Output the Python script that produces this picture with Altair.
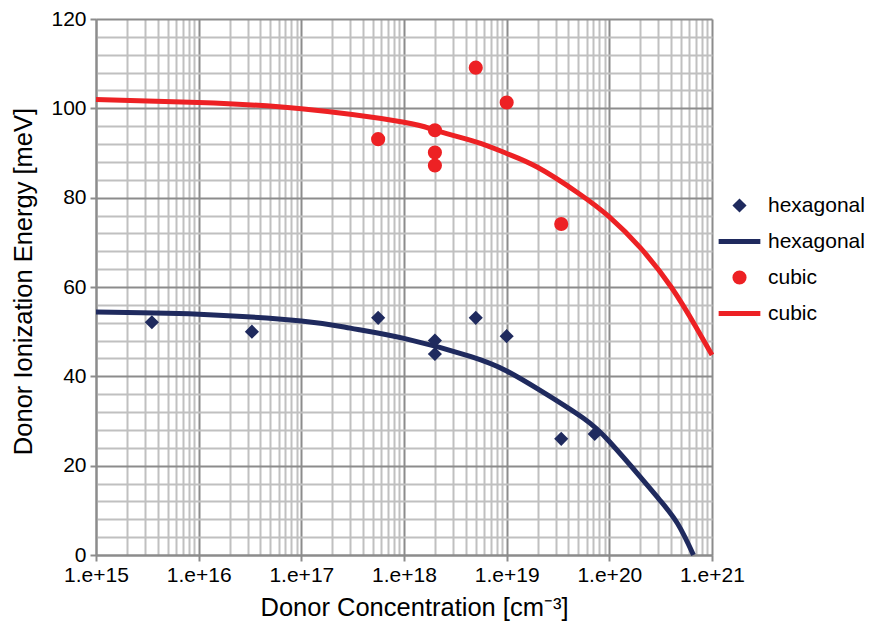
import altair as alt
import pandas as pd

# Measured donor ionization energies (meV) versus donor concentration (cm^-3)
hex_conc = [3.5e15, 3.3e16, 5.6e17, 2.0e18, 2.0e18, 5.0e18, 1.0e19, 3.4e19, 7.2e19]
hex_energy = [52.1, 50.0, 53.1, 48.0, 45.0, 53.1, 49.0, 26.0, 27.1]
cubic_conc = [5.6e17, 2.0e18, 2.0e18, 2.0e18, 5.0e18, 1.0e19, 3.4e19]
cubic_energy = [93.1, 95.1, 90.1, 87.2, 109.1, 101.3, 74.1]

# Trend curves
hex_fit_conc = [1e15, 1e16, 1e17, 3e17, 1e18, 4.5e18, 1e19, 2.1e19, 5.6e19,
                1e20, 2e20, 3.1e20, 4.6e20, 6.6e20]
hex_fit_energy = [54.4, 53.9, 52.4, 50.8, 48.5, 44.4, 41.2, 36.9, 30.6,
                  25.4, 17.5, 12.3, 7.1, 0.0]
cubic_fit_conc = [1e15, 1e16, 1e17, 1e18, 2e18, 5e18, 1e19, 2e19, 5e19, 1e20,
                  2e20, 4e20, 7e20, 1e21]
cubic_fit_energy = [102.0, 101.3, 99.9, 96.9, 95.1, 92.5, 89.9, 86.8, 81.0, 75.7,
                    68.8, 60.0, 51.0, 44.8]

# Grid positions: decades / every 20 meV are major, the rest minor
x_grid = sorted([10.0 ** e for e in range(15, 22)]
                + [k * 10.0 ** e for e in range(15, 21) for k in range(2, 10)])
y_grid = list(range(0, 121, 4))

NAVY = "#1f2a5e"
RED = "#ed2124"
FONT = "Liberation Sans"
MAJOR = "#8c8c8c"
MINOR = "#c0c0c0"

# Legend rows: markers and trend lines (the line symbol is a thin filled bar)
series_order = ["hexagonal points", "hexagonal fit", "cubic points", "cubic fit"]
LINE_SYMBOL = "M-2.95,-0.35H2.95V0.35H-2.95Z"
color_scale = alt.Scale(domain=series_order, range=[NAVY, NAVY, RED, RED])
shape_scale = alt.Scale(domain=series_order,
                        range=["diamond", LINE_SYMBOL, "circle", LINE_SYMBOL])

points = pd.concat([
    pd.DataFrame({"conc": hex_conc, "energy": hex_energy, "series": "hexagonal points"}),
    pd.DataFrame({"conc": cubic_conc, "energy": cubic_energy, "series": "cubic points"}),
])
hex_fit = pd.DataFrame({"conc": hex_fit_conc, "energy": hex_fit_energy})
cubic_fit = pd.DataFrame({"conc": cubic_fit_conc, "energy": cubic_fit_energy})

legend = alt.Legend(
    title=None,
    orient="none",
    legendX=633,
    legendY=176,
    symbolSize=200,
    symbolStrokeWidth=0,
    symbolOpacity=1,
    labelExpr="split(datum.label, ' ')[0]",
    labelFont=FONT,
    labelFontSize=21,
    labelColor="black",
    labelOffset=18,
    labelLimit=200,
    rowPadding=14,
)

x_scale = alt.Scale(type="log", domain=[1e15, 1e21], nice=False)
y_scale = alt.Scale(domain=[0, 120], nice=False)

x_major_test = "abs(log(datum.value) / LN10 - round(log(datum.value) / LN10)) < 0.001"
y_major_test = "datum.value % 20 === 0"

x_axis = alt.Axis(
    values=x_grid, grid=True, gridWidth=2,
    gridColor={"condition": {"test": x_major_test, "value": MAJOR}, "value": MINOR},
    domain=True, domainColor=MAJOR, domainWidth=2,
    ticks=True, tickWidth=2, tickSize=6,
    tickColor={"condition": {"test": x_major_test, "value": MAJOR}, "value": "transparent"},
    labelExpr=f"({x_major_test}) ? '1.e+' + round(log(datum.value) / LN10) : ''",
    labelFlush=False, labelOverlap=False, labelPadding=3,
    labelFont=FONT, labelFontSize=21, labelColor="black",
    title="Donor Concentration [cm\u207b\u00b3]",
    titleFont=FONT, titleFontSize=25.5, titleFontWeight="normal", titleColor="black",
    titlePadding=10, titleX=318,
)
y_axis = alt.Axis(
    values=y_grid, grid=True, gridWidth=2,
    gridColor={"condition": {"test": y_major_test, "value": MAJOR}, "value": MINOR},
    domain=True, domainColor=MAJOR, domainWidth=2,
    ticks=True, tickWidth=2, tickSize=6,
    tickColor={"condition": {"test": y_major_test, "value": MAJOR}, "value": "transparent"},
    labelExpr=f"({y_major_test}) ? datum.label : ''",
    labelFlush=False, labelOverlap=False, labelPadding=4,
    labelFont=FONT, labelFontSize=21, labelColor="black",
    title="Donor Ionization Energy [meV]",
    titleFont=FONT, titleFontSize=25.5, titleFontWeight="normal", titleColor="black",
    titlePadding=14, titleY=262,
)


def trend(df, colour):
    return alt.Chart(df).mark_line(
        strokeWidth=5, interpolate="natural", color=colour
    ).encode(
        x=alt.X("conc:Q", scale=x_scale, axis=x_axis),
        y=alt.Y("energy:Q", scale=y_scale, axis=y_axis),
    )


markers = alt.Chart(points).mark_point(filled=True, size=200, opacity=1).encode(
    x=alt.X("conc:Q", scale=x_scale, axis=x_axis),
    y=alt.Y("energy:Q", scale=y_scale, axis=y_axis),
    color=alt.Color("series:N", scale=color_scale, legend=legend),
    shape=alt.Shape("series:N", scale=shape_scale, legend=legend),
)

chart = (
    alt.layer(trend(hex_fit, NAVY), trend(cubic_fit, RED), markers)
    .properties(
        width=616,
        height=536,
        autosize=alt.AutoSizeParams(type="none"),
        padding={"left": 96, "top": 19, "right": 157, "bottom": 73},
        background="white",
    )
    .configure_view(strokeWidth=0)
)

chart.save("out.html", embed_options={"renderer": "svg", "actions": False})
